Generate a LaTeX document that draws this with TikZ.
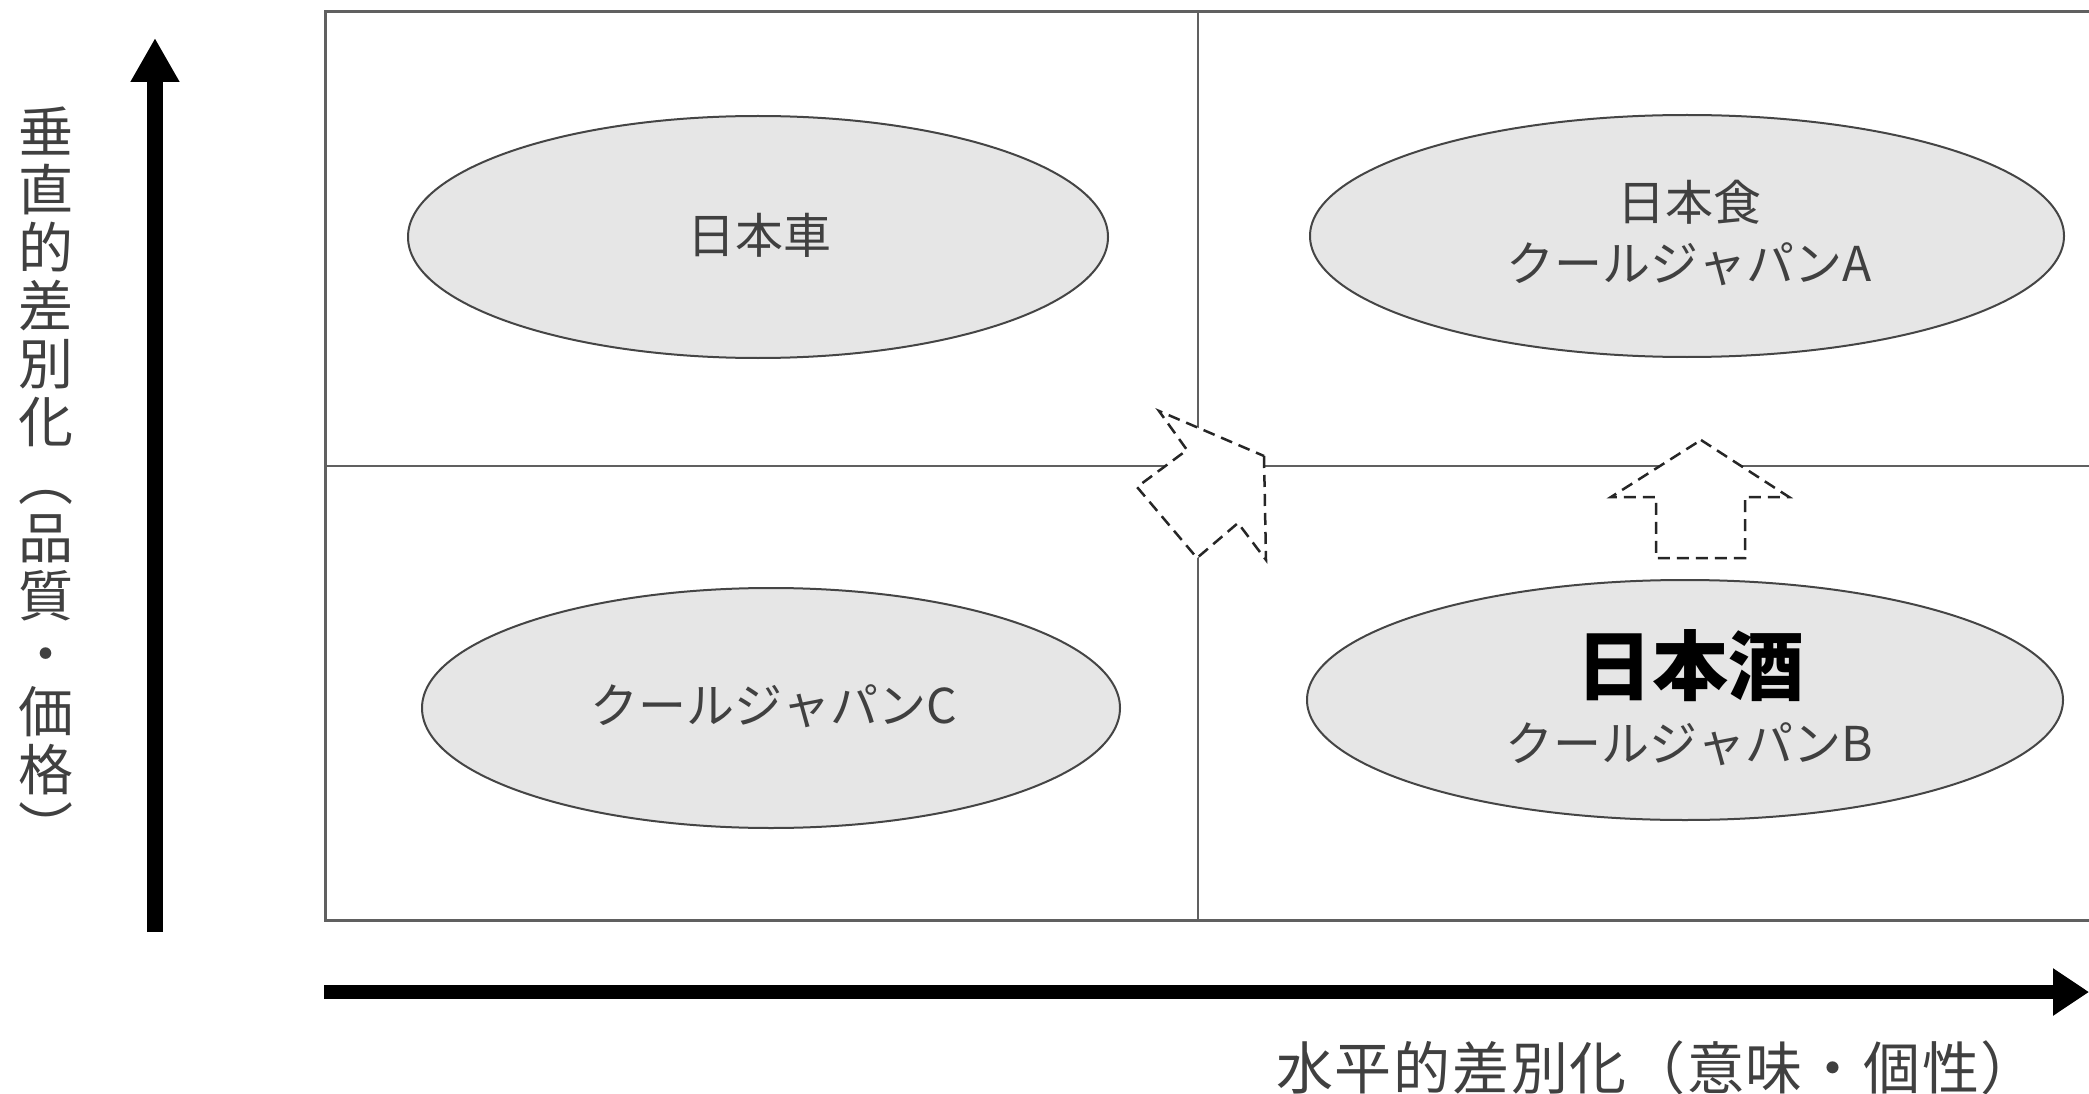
\documentclass[tikz,border=0pt]{standalone}
\usepackage{fontspec}
\newfontfamily\jp{Noto Sans CJK JP}[Kerning=Off]
\usetikzlibrary{shapes.geometric,arrows.meta}
\definecolor{txtgray}{HTML}{404040}
\definecolor{boxgray}{HTML}{606060}
\definecolor{ellgray}{HTML}{454545}
\definecolor{fillgray}{HTML}{E6E6E6}
\newcommand\jpcell[1]{\makebox[58.7pt][c]{#1}}
\begin{document}
\begin{tikzpicture}[x=1pt,y=-1pt,
  lbl/.style={font=\jp\fontsize{48}{52}\selectfont, text=txtgray, inner sep=0pt},
  biglbl/.style={font=\jp\bfseries\fontsize{76}{80}\selectfont, text=black, inner sep=0pt},
  axislbl/.style={font=\jp\fontsize{55}{58}\selectfont, text=txtgray, inner sep=0pt, align=center},
  blob/.style={ellipse, draw=ellgray, line width=2pt, fill=fillgray, inner sep=0pt},
  gridline/.style={draw=boxgray, line width=2pt},
  dasharrow/.style={draw=black!85, fill=white, line width=2.5pt, dash pattern=on 12pt off 7pt, line join=miter},
  vaxis/.style={line width=16pt, -{Triangle[length=44pt,width=46pt]}},
  haxis/.style={line width=14pt, -{Triangle[length=36pt,width=45pt]}}
]
\useasboundingbox (0,0) rectangle (2089,1094);
% frame
\coordinate (tl) at (325,12);
\coordinate (bl) at (325,920);
\coordinate (tr) at (2095,12);
\coordinate (br) at (2095,920);
\coordinate (mt) at (1198,12);
\coordinate (mb) at (1198,920);
\coordinate (ml) at (325,466);
\coordinate (mr) at (2095,466);
\draw[gridline, line width=3pt] (tr) -- (tl) -- (bl) -- (br);
\draw[gridline] (mt) -- (mb);
\draw[gridline] (ml) -- (mr);
% ellipses
\node[blob, minimum width=700pt, minimum height=242pt] (car) at (758,237) {};
\node[blob, minimum width=754pt, minimum height=242pt] (food) at (1687,236) {};
\node[blob, minimum width=698pt, minimum height=240pt] (cjc) at (771,708) {};
\node[blob, minimum width=756pt, minimum height=240pt] (sake) at (1685,700) {};
\node[lbl] (carT) at (759,235) {日本車};
\node[lbl] (foodT) at (1689,202) {日本食};
\node[lbl] (foodS) at (1689,264) {クールジャパンA};
\node[lbl] (cjcT) at (774,706) {クールジャパンC};
\node[biglbl] (sakeT) at (1690,666) {日本酒};
\node[lbl] (sakeS) at (1689,744) {クールジャパンB};
% dashed block arrows
\draw[dasharrow] (1701,440) -- (1789,497) -- (1745,497) -- (1745,558) -- (1656,558) -- (1656,497) -- (1611,497) -- cycle;
\draw[dasharrow] (1264,456) -- (1266,560) -- (1238,523) -- (1197,558) -- (1137,487) -- (1187,450) -- (1159,411) -- cycle;
% axes
\coordinate (vb) at (155,932);
\coordinate (vt) at (155,38);
\coordinate (hl) at (324,992);
\coordinate (hr) at (2089,992);
\draw[vaxis] (vb) -- (vt);
\draw[haxis] (hl) -- (hr);
\node[axislbl] (vlab) at (46,478) {垂\\直\\的\\差\\別\\化\\︵\\品\\質\\・\\価\\格\\︶};
\node[font=\jp\fontsize{57}{60}\selectfont, text=txtgray, inner sep=0pt] (hlab) at (1657,1068) {\jpcell{水}\jpcell{平}\jpcell{的}\jpcell{差}\jpcell{別}\jpcell{化}\jpcell{（}\jpcell{意}\jpcell{味}\jpcell{・}\jpcell{個}\jpcell{性}\jpcell{）}};
\end{tikzpicture}
\end{document}
